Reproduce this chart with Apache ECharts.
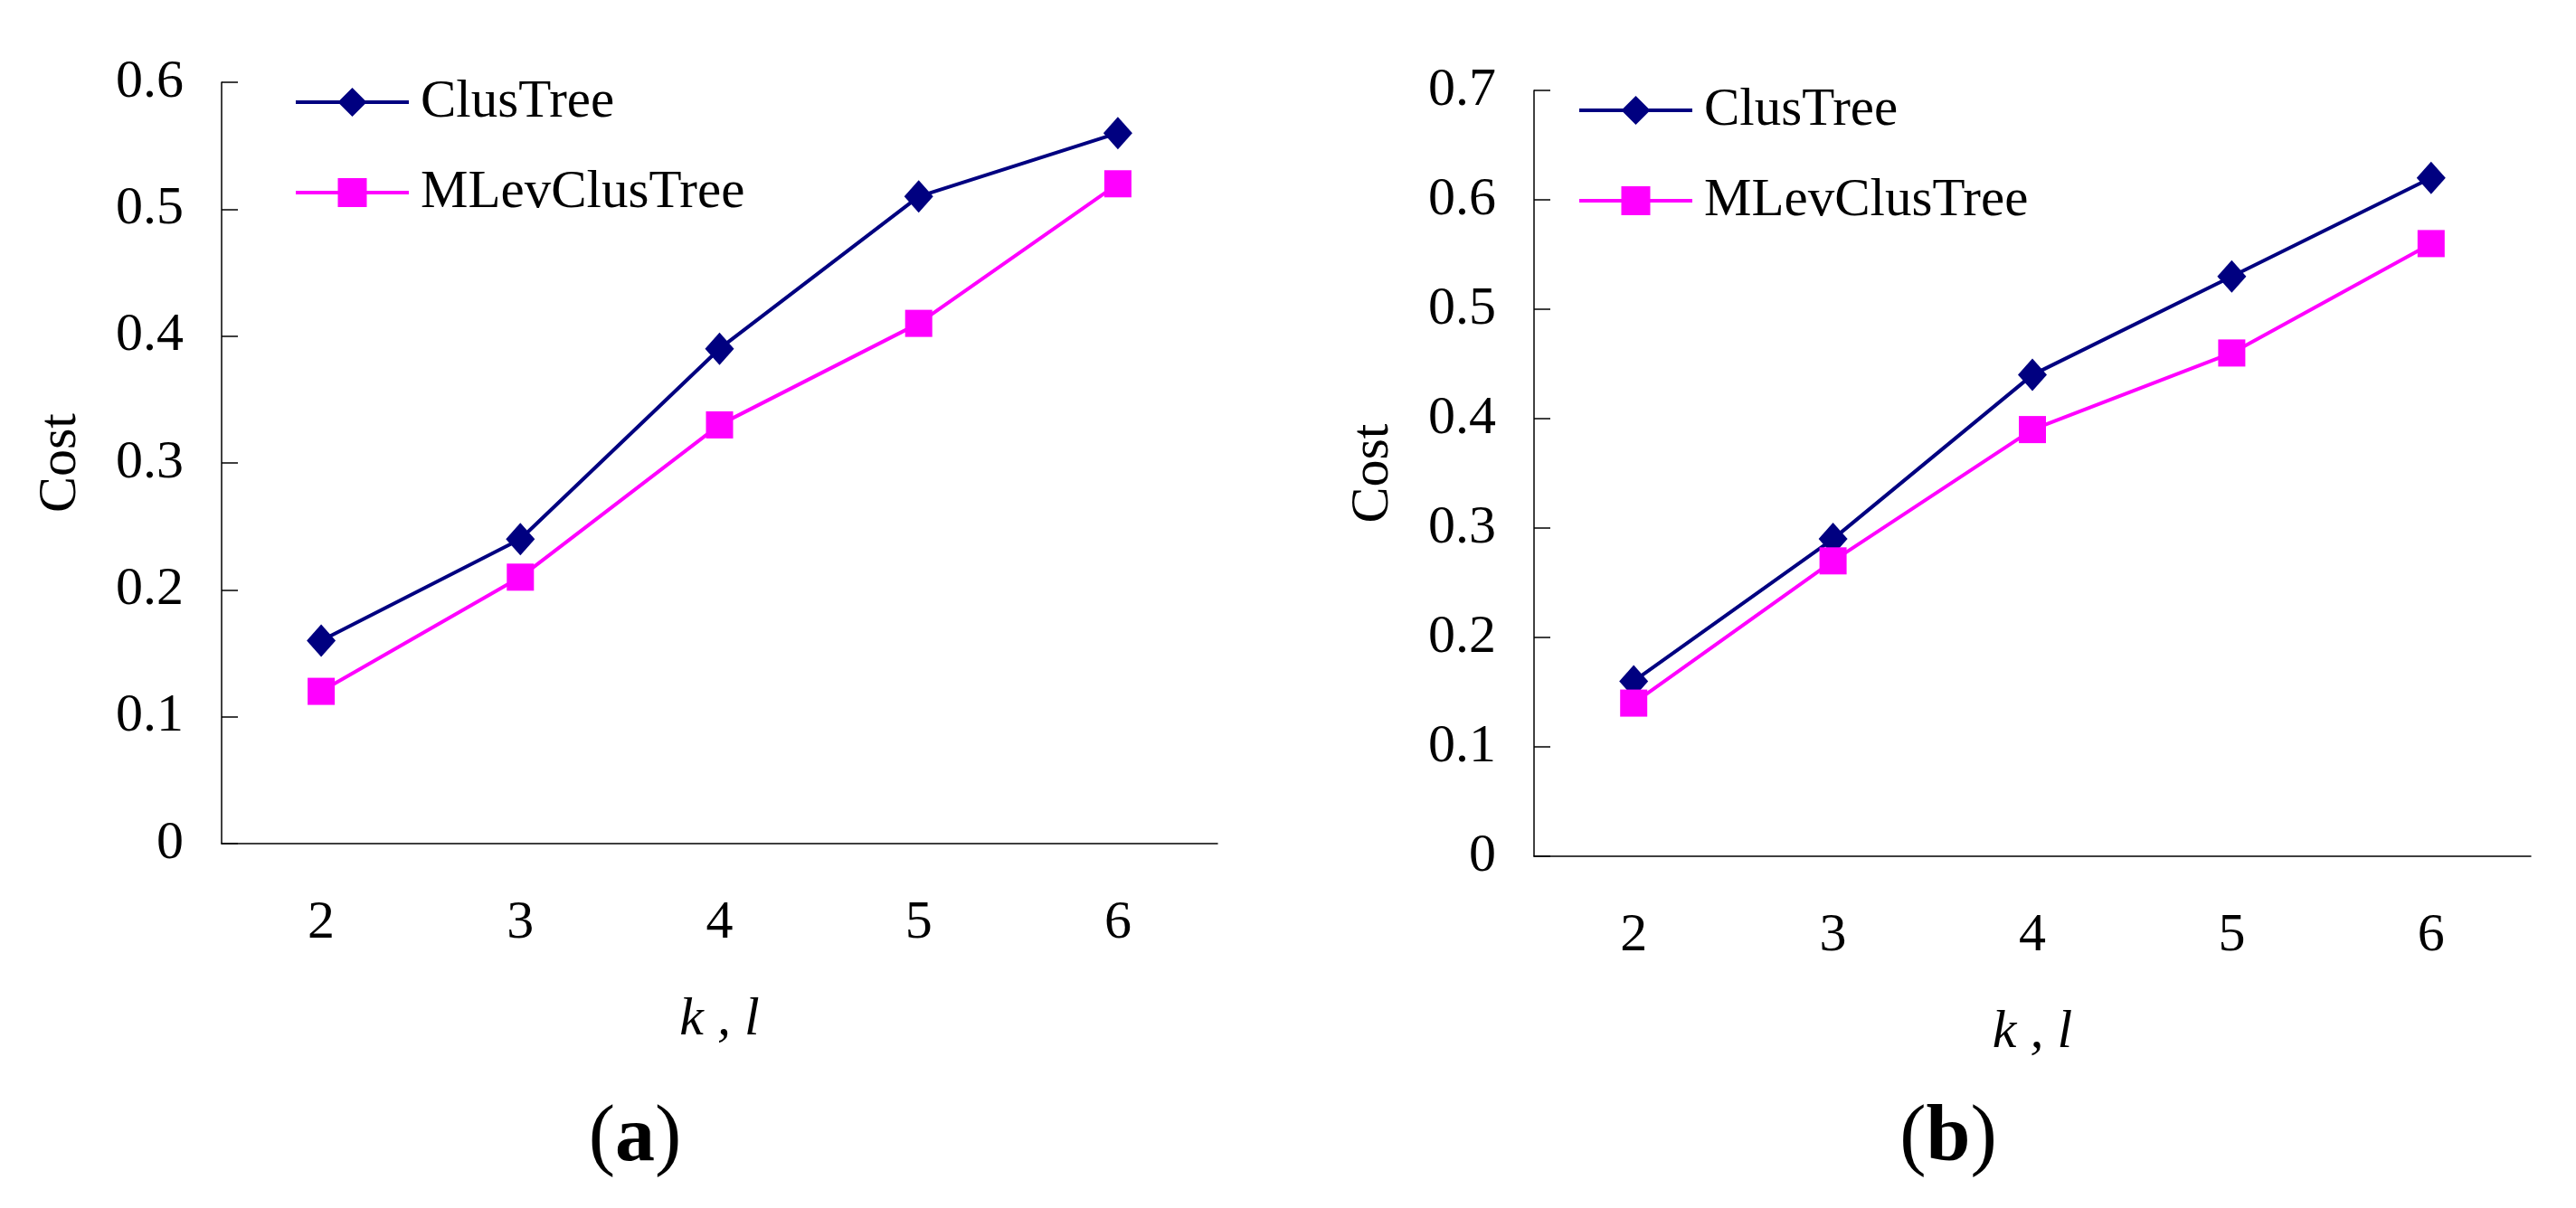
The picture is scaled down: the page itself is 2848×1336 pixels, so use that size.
<!DOCTYPE html>
<html>
<head>
<meta charset="utf-8">
<title>Cost vs k, l</title>
<script src="https://cdn.jsdelivr.net/npm/echarts@6/dist/echarts.min.js"></script>
<style>
  html, body { margin: 0; padding: 0; background: #fff; }
  #main { width: 2848px; height: 1336px; }
</style>
</head>
<body>
<div id="main"></div>
<script>
// data
var categories = ['2', '3', '4', '5', '6'];
var clusTreeA = [0.16, 0.24, 0.39, 0.51, 0.56];
var mlevA = [0.12, 0.21, 0.33, 0.41, 0.52];
var clusTreeB = [0.16, 0.29, 0.44, 0.53, 0.62];
var mlevB = [0.14, 0.27, 0.39, 0.46, 0.56];
var yMaxA = 0.6, yMaxB = 0.7;
var seriesNames = ['ClusTree', 'MLevClusTree'];

var FONT = '"Liberation Serif", "Times New Roman", serif';
var NAVY = '#000080', MAGENTA = '#ff00ff';

function xAxisOf(gi) {
    return {
        type: 'category', gridIndex: gi, data: categories, boundaryGap: true,
        axisLine: { lineStyle: { color: '#000', width: 1.5 } },
        axisTick: { inside: true, length: 18, lineStyle: { color: '#000', width: 1.5 } },
        axisLabel: { margin: 58, color: '#000', fontSize: 60, fontFamily: FONT },
        name: 'k , l', nameLocation: 'middle', nameGap: 165,
        nameTextStyle: { color: '#000', fontSize: 60, fontFamily: FONT, fontStyle: 'italic' },
        splitLine: { show: false }
    };
}

function yAxisOf(gi, max) {
    return {
        type: 'value', gridIndex: gi, min: 0, max: max, interval: 0.1,
        axisLine: { show: true, lineStyle: { color: '#000', width: 1.5 } },
        axisTick: { show: true, inside: true, length: 18, lineStyle: { color: '#000', width: 1.5 } },
        axisLabel: { margin: 42, color: '#000', fontSize: 60, fontFamily: FONT },
        name: 'Cost', nameLocation: 'middle', nameGap: 148,
        nameTextStyle: { color: '#000', fontSize: 60, fontFamily: FONT },
        splitLine: { show: false }
    };
}

function lineOf(name, gi, data, color, symbol, size) {
    return {
        name: name, type: 'line', xAxisIndex: gi, yAxisIndex: gi, data: data,
        symbol: symbol, symbolSize: size,
        lineStyle: { color: color, width: 4 },
        itemStyle: { color: color, borderWidth: 0 },
        animation: false
    };
}

function legendOf(left, top) {
    return {
        data: seriesNames, orient: 'vertical', left: left, top: top, padding: 0,
        itemWidth: 125, itemHeight: 40, itemGap: 40,
        lineStyle: { width: 4 },
        textStyle: { color: '#000', fontSize: 59, fontFamily: FONT, lineHeight: 60, padding: [0, 0, 0, 8] }
    };
}

function panelLabel(letter, x, y) {
    return {
        type: 'text', x: x, y: y,
        style: {
            text: '{p|(}{b|' + letter + '}{p|)}',
            align: 'center', verticalAlign: 'middle',
            rich: {
                p: { fontSize: 88, fontFamily: FONT, fill: '#000' },
                b: { fontSize: 88, fontFamily: FONT, fontWeight: 'bold', fill: '#000' }
            }
        }
    };
}

var chart = echarts.init(document.getElementById('main'));
chart.setOption({
    backgroundColor: '#fff',
    animation: false,
    grid: [
        { left: 245, top: 91, width: 1101, height: 842 },
        { left: 1696, top: 100, width: 1102, height: 847 }
    ],
    legend: [legendOf(325, 83), legendOf(1744, 92)],
    xAxis: [xAxisOf(0), xAxisOf(1)],
    yAxis: [yAxisOf(0, yMaxA), yAxisOf(1, yMaxB)],
    series: [
        lineOf(seriesNames[0], 0, clusTreeA, NAVY, 'diamond', [32, 36]),
        lineOf(seriesNames[1], 0, mlevA, MAGENTA, 'rect', 30),
        lineOf(seriesNames[0], 1, clusTreeB, NAVY, 'diamond', [32, 36]),
        lineOf(seriesNames[1], 1, mlevB, MAGENTA, 'rect', 30)
    ],
    graphic: [panelLabel('a', 702, 1260), panelLabel('b', 2154, 1260)]
});
</script>
</body>
</html>
